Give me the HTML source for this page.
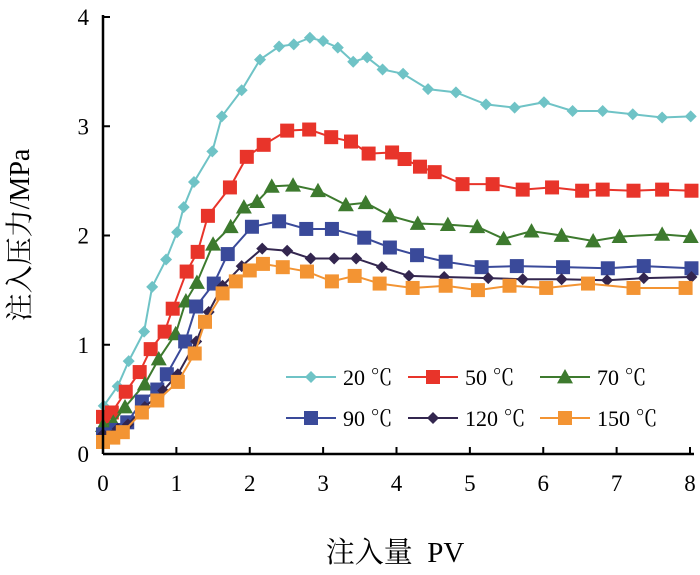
<!DOCTYPE html>
<html><head><meta charset="utf-8"><style>
html,body{margin:0;padding:0;background:#fff;}
svg{display:block;font-family:"Liberation Serif","Noto Serif CJK SC",serif;}
</style></head><body>
<svg id="chart" width="700" height="575" viewBox="0 0 700 575" xmlns="http://www.w3.org/2000/svg">
<g id="series"></g>
<g id="axes"></g>
<g id="legend"></g>
<text x="395" y="562" font-size="29" text-anchor="middle" font-family="'Liberation Serif','Noto Serif CJK SC',serif">注入量&#160;&#160;PV</text>
<text transform="translate(29,235) rotate(-90)" font-size="28" text-anchor="middle" font-family="'Liberation Serif','Noto Serif CJK SC',serif">注入压力/MPa</text>
</svg>
<script>
const xTicks=[0,1,2,3,4,5,6,7,8];
const yTicks=[0,1,2,3,4];
const seriesNames=["20 ℃","50 ℃","70 ℃","90 ℃","120 ℃","150 ℃"];
const x20=[0.01,0.20,0.35,0.56,0.67,0.86,1.01,1.10,1.24,1.49,1.62,1.89,2.14,2.40,2.60,2.82,3.00,3.20,3.41,3.60,3.81,4.09,4.43,4.81,5.22,5.61,6.01,6.40,6.81,7.22,7.62,8.01];
const y20=[0.44,0.62,0.85,1.12,1.53,1.78,2.03,2.26,2.49,2.77,3.09,3.33,3.61,3.73,3.75,3.81,3.78,3.72,3.59,3.63,3.52,3.48,3.34,3.31,3.20,3.17,3.22,3.14,3.14,3.11,3.08,3.09];
const x50=[0,0.12,0.31,0.50,0.65,0.84,0.95,1.14,1.29,1.43,1.73,1.96,2.19,2.51,2.81,3.11,3.38,3.62,3.94,4.11,4.32,4.52,4.90,5.31,5.72,6.12,6.53,6.81,7.23,7.62,8.02];
const y50=[0.34,0.38,0.57,0.75,0.96,1.12,1.33,1.67,1.85,2.18,2.44,2.72,2.83,2.96,2.97,2.90,2.86,2.75,2.76,2.70,2.63,2.58,2.47,2.47,2.42,2.44,2.41,2.42,2.41,2.42,2.41];
const x70=[0,0.14,0.30,0.57,0.76,0.99,1.13,1.28,1.50,1.74,1.92,2.10,2.30,2.59,2.93,3.31,3.58,3.91,4.29,4.70,5.10,5.46,5.84,6.25,6.68,7.04,7.62,8.01];
const y70=[0.26,0.29,0.43,0.64,0.87,1.10,1.40,1.57,1.92,2.08,2.26,2.31,2.45,2.46,2.41,2.28,2.30,2.18,2.11,2.10,2.08,1.97,2.04,2.00,1.95,1.99,2.01,1.99];
const x90=[0,0.18,0.33,0.53,0.74,0.87,1.12,1.27,1.51,1.70,2.03,2.40,2.77,3.12,3.56,3.91,4.28,4.67,5.16,5.64,6.27,6.88,7.37,8.02];
const y90=[0.18,0.22,0.29,0.48,0.59,0.73,1.03,1.35,1.56,1.83,2.08,2.13,2.06,2.06,1.98,1.89,1.82,1.76,1.71,1.72,1.71,1.70,1.72,1.70];
const x120=[0,0.20,0.34,0.57,0.82,1.02,1.27,1.44,1.63,1.89,2.17,2.51,2.83,3.15,3.45,3.80,4.17,4.65,5.25,5.72,6.25,6.87,7.37,8.02];
const y120=[0.18,0.23,0.27,0.43,0.58,0.73,1.03,1.30,1.54,1.72,1.88,1.86,1.79,1.79,1.79,1.71,1.63,1.62,1.61,1.60,1.60,1.59,1.61,1.62];
const x150=[0,0.14,0.27,0.53,0.74,1.02,1.25,1.39,1.63,1.81,2.00,2.18,2.45,2.78,3.12,3.43,3.77,4.22,4.67,5.11,5.54,6.04,6.61,7.23,7.94];
const y150=[0.11,0.15,0.20,0.38,0.49,0.66,0.92,1.21,1.47,1.58,1.68,1.74,1.71,1.67,1.58,1.63,1.56,1.52,1.54,1.50,1.54,1.52,1.56,1.52,1.52];

const X0=103,X1=690,Y0=454,Y1=17;
const sx=v=>X0+v*(X1-X0)/8;
const sy=v=>Y0-v*(Y0-Y1)/4;
const NS="http://www.w3.org/2000/svg";
function mk(t,a,p){const e=document.createElementNS(NS,t);for(const k in a)e.setAttribute(k,a[k]);p.appendChild(e);return e;}
const styles=[
 {c:"#6fc3c6",m:"diamond",s:6},
 {c:"#e8342a",m:"square",s:7},
 {c:"#3d7a2e",m:"triangle",s:8},
 {c:"#3a4a9a",m:"square",s:7},
 {c:"#33264f",m:"diamond",s:6},
 {c:"#f39433",m:"square",s:7}];
function marker(type,x,y,s,c,p){
 let e;
 if(type==="square")e=mk("rect",{x:x-s,y:y-s,width:2*s,height:2*s,fill:c},p);
 else if(type==="diamond")e=mk("polygon",{points:`${x},${y-s} ${x+s},${y} ${x},${y+s} ${x-s},${y}`,fill:c},p);
 else e=mk("polygon",{points:`${x},${y-s} ${x+s},${y+s*0.8} ${x-s},${y+s*0.8}`,fill:c},p);
 return e;
}
const data=[[x20,y20],[x50,y50],[x70,y70],[x90,y90],[x120,y120],[x150,y150]];
const sg=document.getElementById("series");
data.forEach((d,i)=>{
 const g=mk("g",{},sg);
 
 
 const pts=d[0].map((v,j)=>sx(v)+","+sy(d[1][j])).join(" ");
 const l=mk("polyline",{points:pts,fill:"none",stroke:styles[i].c,"stroke-width":2},g);
 
 
 d[0].forEach((v,j)=>{
  const m=marker(styles[i].m,sx(v),sy(d[1][j]),styles[i].s,styles[i].c,g);
  
  
 });
});
const ag=document.getElementById("axes");
const xa=mk("line",{x1:X0,y1:Y0,x2:X1+4,y2:Y0,stroke:"#000","stroke-width":2.5},ag);


const ya=mk("line",{x1:X0,y1:Y0,x2:X0,y2:Y1-2,stroke:"#000","stroke-width":2.5},ag);


xTicks.forEach(v=>{
 mk("line",{x1:sx(v),y1:Y0,x2:sx(v),y2:Y0-7,stroke:"#000","stroke-width":2},ag);
 const t=mk("text",{x:sx(v),y:Y0+37,"font-size":23,"text-anchor":"middle"},ag);
 t.textContent=v;
 
 
});
yTicks.forEach(v=>{
 mk("line",{x1:X0,y1:sy(v),x2:X0+7,y2:sy(v),stroke:"#000","stroke-width":2},ag);
 const t=mk("text",{x:X0-14,y:sy(v)+8,"font-size":23,"text-anchor":"end"},ag);
 t.textContent=v;
 
 
});
const lg=document.getElementById("legend");


const lx=[286,408,540],ly=[377,418];
seriesNames.forEach((n,i)=>{
 const x=lx[i%3],y=ly[Math.floor(i/3)];
 const g=mk("g",{},lg);
 
 
 mk("line",{x1:x,y1:y,x2:x+50,y2:y,stroke:styles[i].c,"stroke-width":2},g);
 marker(styles[i].m,x+25,y,styles[i].s,styles[i].c,g);
 const t=mk("text",{x:x+57,y:y+8,"font-size":22},g);
 t.textContent=n;
});
</script>
</body></html>
